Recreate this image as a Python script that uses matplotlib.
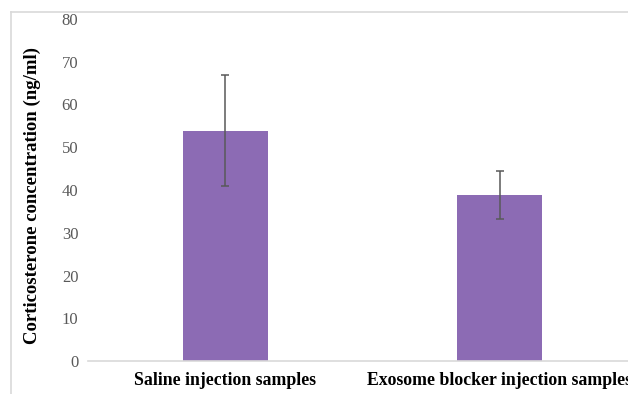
import matplotlib.pyplot as plt
from matplotlib.lines import Line2D

groups = ["Saline injection samples", "Exosome blocker injection samples"]
means = [53.9, 38.9]
errors = [13.0, 5.6]

plt.rcParams['font.family'] = ['Liberation Serif', 'DejaVu Serif']

W, H = 628, 394
fig = plt.figure(figsize=(W / 100, H / 100), dpi=100)

# outer chart frame: only the left and top edges fall inside the image
frame = dict(transform=fig.transFigure, color='#d9d9d9', linewidth=1.2)
fig.lines.append(Line2D([11 / W, 11 / W], [0, (H - 12) / H], **frame))
fig.lines.append(Line2D([11 / W, 1], [(H - 12) / H, (H - 12) / H], **frame))

ax = fig.add_axes([88 / W, (H - 361) / H, (637 - 88) / W, (361 - 19) / H])

x = range(len(groups))
ax.bar(x, means, width=0.31, color='#8c6bb4', zorder=2)
ax.errorbar(x, means, yerr=errors, fmt='none', ecolor='#595959',
            elinewidth=1.1, capsize=3, capthick=1.1, zorder=3)

ax.set_xlim(-0.5, 1.5)
ax.set_ylim(0, 80)
ax.set_yticks(range(0, 81, 10))
ax.set_xticks(list(x))
ax.set_xticklabels(groups, fontsize=12.8, fontweight='bold')
ax.tick_params(axis='y', length=0, pad=7, labelsize=12, labelcolor='#595959')
ax.tick_params(axis='x', length=0, pad=8)

for side in ['top', 'right', 'left']:
    ax.spines[side].set_visible(False)
ax.spines['bottom'].set_color('#d9d9d9')
ax.spines['bottom'].set_linewidth(1.2)

ax.set_ylabel("Corticosterone concentration (ng/ml)", fontsize=13.5,
              fontweight='bold')
ax.yaxis.set_label_coords(-(88 - 41) / (637 - 88), 0.485)

fig.savefig("out.png", dpi=100)
